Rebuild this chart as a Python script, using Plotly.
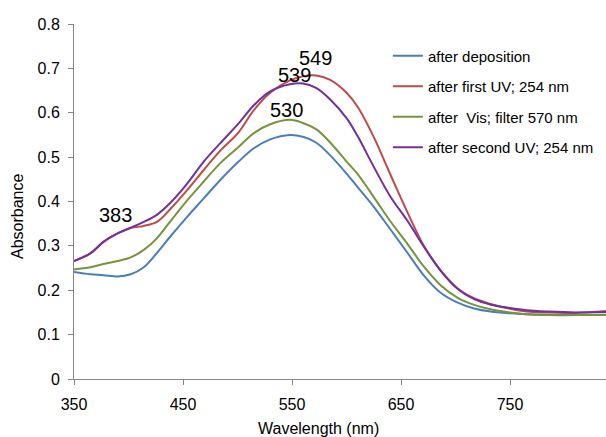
import plotly.graph_objects as go

wavelength = [350, 365, 377, 390, 402, 414, 426, 438, 454, 469, 484, 501, 515, 530, 548,
              560, 572, 585, 600, 610, 625, 640, 656, 671, 686, 702, 717, 732, 750, 765,
              785, 810, 838]

after_deposition = [0.241, 0.236, 0.234, 0.231, 0.236, 0.252, 0.284, 0.320, 0.366, 0.407,
                    0.448, 0.490, 0.520, 0.540, 0.550, 0.546, 0.533, 0.504, 0.463, 0.433,
                    0.388, 0.338, 0.284, 0.233, 0.195, 0.172, 0.159, 0.152, 0.148, 0.146,
                    0.145, 0.144, 0.145]

after_first_uv = [0.266, 0.283, 0.309, 0.328, 0.340, 0.345, 0.354, 0.382, 0.426, 0.471,
                  0.514, 0.556, 0.606, 0.645, 0.673, 0.682, 0.684, 0.674, 0.645, 0.614,
                  0.545, 0.462, 0.375, 0.300, 0.246, 0.204, 0.182, 0.169, 0.158, 0.152,
                  0.150, 0.149, 0.153]

after_vis = [0.247, 0.252, 0.259, 0.266, 0.274, 0.291, 0.317, 0.354, 0.403, 0.445,
             0.486, 0.523, 0.554, 0.574, 0.584, 0.577, 0.563, 0.533, 0.490, 0.462,
             0.410, 0.356, 0.304, 0.253, 0.212, 0.183, 0.167, 0.157, 0.150, 0.146,
             0.144, 0.144, 0.144]

after_second_uv = [0.266, 0.283, 0.309, 0.328, 0.341, 0.354, 0.370, 0.396, 0.441, 0.490,
                   0.531, 0.576, 0.617, 0.648, 0.664, 0.666, 0.656, 0.630, 0.588, 0.548,
                   0.478, 0.412, 0.356, 0.298, 0.245, 0.203, 0.180, 0.168, 0.160, 0.155,
                   0.152, 0.150, 0.151]

series_names = ["after deposition", "after first UV; 254 nm",
                "after  Vis; filter 570 nm", "after second UV; 254 nm"]
series_colors = ["#4A7EBB", "#BE4B48", "#77933C", "#7030A0"]

peak_labels = ["549", "539", "530", "383"]
peak_x = [571.6, 552.3, 545.0, 388.5]
peak_y = [0.723, 0.685, 0.606, 0.370]

x_ticks = [350, 450, 550, 650, 750]
y_ticks = [0, 0.1, 0.2, 0.3, 0.4, 0.5, 0.6, 0.7, 0.8]

FONT = "Liberation Sans, Arial, sans-serif"

fig = go.Figure()
for i, (name, ys) in enumerate(zip(series_names,
                                   [after_deposition, after_first_uv, after_vis, after_second_uv])):
    fig.add_trace(go.Scatter(
        x=wavelength, y=ys, mode="lines", name=name,
        line=dict(color=series_colors[i], width=2, shape="spline", smoothing=1.0),
        legendgroup=f"g{i}", hoverinfo="skip"))

for t, px, py in zip(peak_labels, peak_x, peak_y):
    fig.add_annotation(x=px, y=py, text=t, showarrow=False,
                       xanchor="center", yanchor="middle",
                       font=dict(family=FONT, size=20, color="#000000"))

fig.add_annotation(xref="paper", yref="paper", x=(318 - 74) / 532, y=(379 - 428) / 355,
                   xanchor="center", yanchor="middle",
                   text="Wavelength (nm)", showarrow=False,
                   font=dict(family=FONT, size=16, color="#000000"))
fig.add_annotation(xref="paper", yref="paper", x=(18 - 74) / 532, y=(379 - 217) / 355,
                   xanchor="center", yanchor="middle",
                   text="Absorbance", showarrow=False, textangle=-90,
                   font=dict(family=FONT, size=16, color="#000000"))

fig.update_layout(
    width=606, height=437,
    margin=dict(l=74, r=0, t=24, b=58, pad=0),
    paper_bgcolor="white", plot_bgcolor="white",
    font=dict(family=FONT, size=16, color="#000000"),
    showlegend=True,
    legend=dict(x=0.59, y=0.956, xanchor="left", yanchor="top",
                font=dict(family=FONT, size=15, color="#000000"),
                tracegroupgap=8, bgcolor="rgba(0,0,0,0)", itemwidth=30),
    xaxis=dict(range=[350, 838], tickvals=x_ticks, ticktext=[str(v) for v in x_ticks],
               showgrid=False, zeroline=False, showline=True, linecolor="#868686",
               linewidth=1, ticks="outside", ticklen=5, tickcolor="#868686",
               ticklabelstandoff=6),
    yaxis=dict(range=[0, 0.8], tickvals=y_ticks,
               ticktext=["0", "0.1", "0.2", "0.3", "0.4", "0.5", "0.6", "0.7", "0.8"],
               showgrid=False, zeroline=False, showline=True, linecolor="#868686",
               linewidth=1, ticks="outside", ticklen=5, tickcolor="#868686",
               ticklabelstandoff=5),
)

fig.write_html("out.html")
